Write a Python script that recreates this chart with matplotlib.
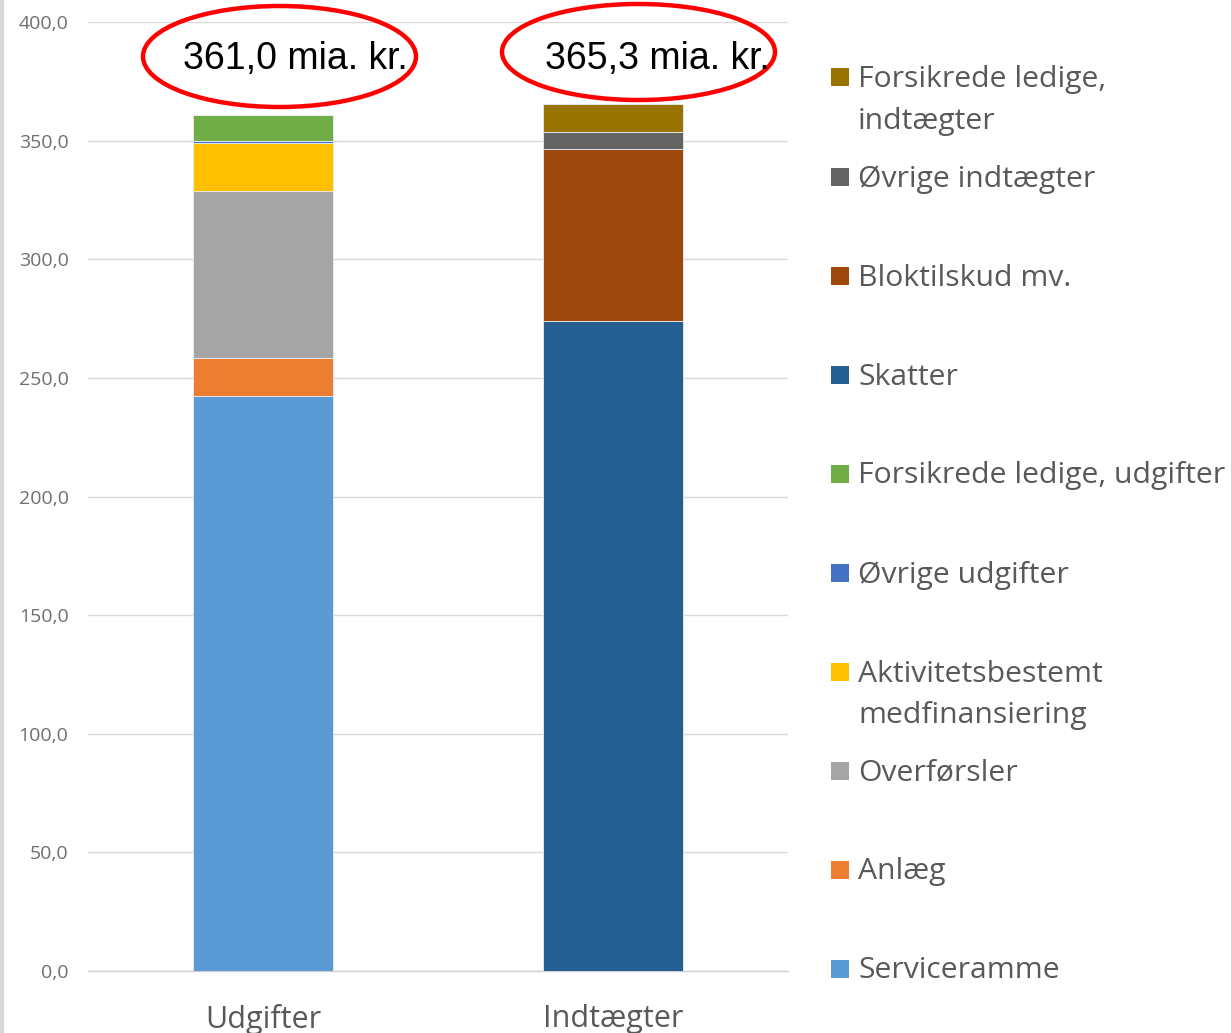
import matplotlib
matplotlib.use("Agg")
import matplotlib.pyplot as plt
from matplotlib.patches import Ellipse, Rectangle
from matplotlib.lines import Line2D
import numpy as np

W, H = 1231, 1033
categories = ["Udgifter", "Indtægter"]

series_names = [
    "Serviceramme", "Anlæg", "Overførsler", "Aktivitetsbestemt\nmedfinansiering",
    "Øvrige udgifter", "Forsikrede ledige, udgifter",
    "Skatter", "Bloktilskud mv.", "Øvrige indtægter", "Forsikrede ledige,\nindtægter",
]
serviceramme = [242.2, 0.0]
anlaeg = [16.0, 0.0]
overfoersler = [70.6, 0.0]
aktivitet = [20.0, 0.0]
oevrige_udg = [1.0, 0.0]
forsikrede_udg = [11.2, 0.0]
skatter = [0.0, 273.8]
bloktilskud = [0.0, 72.5]
oevrige_indt = [0.0, 7.5]
forsikrede_indt = [0.0, 11.5]
totals_labels = ["361,0 mia. kr.", "365,3 mia. kr."]
yticks = [0, 50, 100, 150, 200, 250, 300, 350, 400]

series = [serviceramme, anlaeg, overfoersler, aktivitet, oevrige_udg, forsikrede_udg,
          skatter, bloktilskud, oevrige_indt, forsikrede_indt]
colors = ["#5B9BD5", "#ED7D31", "#A5A5A5", "#FFC000", "#4472C4", "#70AD47",
          "#255E91", "#9E480E", "#636363", "#997300"]

fig = plt.figure(figsize=(W / 100, H / 100), dpi=100)

def fx(px):
    return px / W

def fy(py):
    return 1 - py / H

ax = fig.add_axes([fx(88), fy(971), fx(788) - fx(88), fy(22) - fy(971)])
x = np.arange(len(categories))
bottom = np.zeros(len(categories))
for vals, c in zip(series, colors):
    v = np.array(vals)
    ax.bar(x, v, width=0.4, bottom=bottom, color=c, edgecolor="#e8eef5", linewidth=0.6, zorder=3)
    bottom += v

ax.set_xlim(-0.5, 1.5)
ax.set_ylim(0, 400)
ax.set_yticks(yticks)
ax.set_yticklabels([f"{t:.1f}".replace(".", ",") for t in yticks],
                   fontsize=14, color="#6f6f6f", family="Open Sans")
ax.tick_params(axis="y", length=0, pad=14)
ax.set_xticks(x)
ax.set_xticklabels(categories, fontsize=22, color="#595959", family="Open Sans")
ax.tick_params(axis="x", length=0, pad=24)
ax.grid(axis="y", color="#d9d9d9", linewidth=1, zorder=0)
for s in ["top", "right", "left"]:
    ax.spines[s].set_visible(False)
ax.spines["bottom"].set_color("#d0d0d0")
ax.spines["bottom"].set_linewidth(1)

# Ellipses and totals
ell = [(279.5, 56.5, 273, 101), (638.5, 52, 273, 96)]
text_pos = [(295, 59), (657, 59)]
for (cx, cy, w, h), (tx, ty), lab in zip(ell, text_pos, totals_labels):
    e = Ellipse((fx(cx), fy(cy)), fx(w), h / H, transform=fig.transFigure,
                fill=False, edgecolor="#FF0000", linewidth=3.2, zorder=10)
    fig.add_artist(e)
    fig.text(fx(tx), fy(ty), lab, ha="center", va="center", fontsize=27,
             family="Liberation Sans", color="black", zorder=11)

# Legend (reverse order)
leg_y = [77, 177, 276, 375, 474, 573, 672, 771, 870, 969]
for yy, name, c in zip(leg_y, series_names[::-1], colors[::-1]):
    fig.add_artist(Rectangle((fx(831), fy(yy + 9)), fx(18), 18 / H, transform=fig.transFigure,
                             facecolor=c, edgecolor="none"))
    for i, line in enumerate(name.split("\n")):
        fig.text(fx(858), fy(yy + 2 + 42 * i), line, ha="left", va="center", fontsize=21.7,
                 family="Open Sans", color="#595959")

# left border line
fig.add_artist(Line2D([fx(1.5), fx(1.5)], [0, 1], transform=fig.transFigure,
                      color="#d9d9d9", linewidth=3))

fig.savefig("out.png", dpi=100)
